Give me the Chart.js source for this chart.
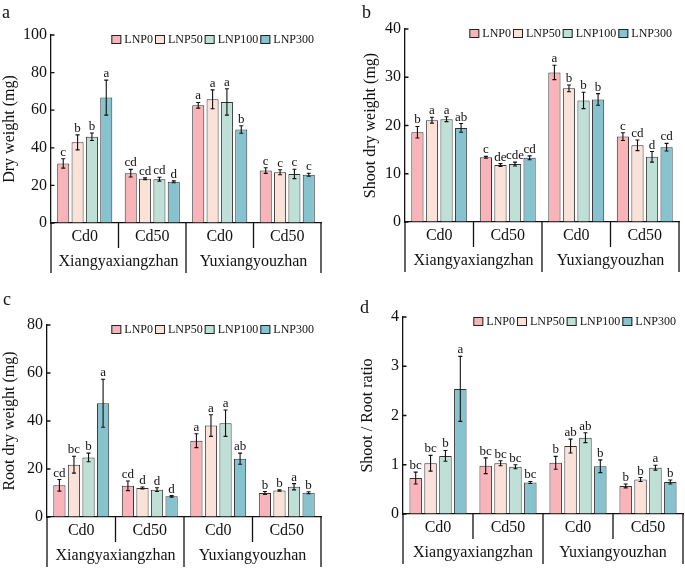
<!DOCTYPE html>
<html>
<head>
<meta charset="utf-8">
<script src="https://cdn.jsdelivr.net/npm/chart.js@4.4.1/dist/chart.umd.min.js"></script>
<style>
  body { margin: 0; background: #fff; }
  #wrap { position: relative; width: 685px; height: 569px; overflow: hidden; background: #fff; }
  canvas { position: absolute; }
</style>
</head>
<body>
<div id="wrap">
  <canvas id="chartA" width="342" height="285" style="left:0px;top:0px"></canvas>
  <canvas id="chartB" width="345" height="285" style="left:340px;top:0px"></canvas>
  <canvas id="chartC" width="342" height="284" style="left:0px;top:285px"></canvas>
  <canvas id="chartD" width="345" height="284" style="left:340px;top:285px"></canvas>
</div>
<script>
// categories
var cultivars = ['Xiangyaxiangzhan', 'Yuxiangyouzhan'];
var cdLevels = ['Cd0', 'Cd50', 'Cd0', 'Cd50'];
var treatments = ['LNP0', 'LNP50', 'LNP100', 'LNP300'];
var colors = ['#f8b4b8', '#fbe2d8', '#bfe0d6', '#87c2cf'];

// a - dry weight (rows = LNP0..LNP300, cols = the 4 Cd groups)
var dryMean = [[31.7, 26.5, 62.6, 27.9], [42.9, 23.5, 65.8, 27.0], [45.9, 23.3, 64.4, 26.1], [66.7, 21.9, 49.7, 25.7]];
var dryErr = [[2.5, 2.0, 1.5, 1.5], [4.0, 0.5, 5.0, 1.3], [2.0, 1.0, 7.0, 2.5], [9.3, 0.5, 2.0, 0.8]];
var drySig = [['c', 'cd', 'a', 'c'], ['b', 'cd', 'a', 'c'], ['b', 'cd', 'a', 'c'], ['a', 'd', 'b', 'c']];

// b - shoot dry weight
var shootMean = [[18.6, 13.4, 31.0, 17.7], [21.1, 11.8, 27.7, 15.9], [21.3, 12.0, 25.2, 13.5], [19.5, 13.3, 25.4, 15.5]];
var shootErr = [[1.2, 0.2, 1.5, 0.8], [0.6, 0.3, 0.7, 1.1], [0.5, 0.4, 1.7, 1.1], [0.9, 0.4, 1.2, 0.8]];
var shootSig = [['b', 'c', 'a', 'c'], ['a', 'de', 'b', 'cd'], ['a', 'cde', 'b', 'd'], ['ab', 'cd', 'b', 'cd']];

// c - root dry weight
var rootMean = [[13.2, 13.0, 31.8, 10.0], [21.8, 12.1, 38.1, 11.0], [24.8, 11.4, 39.1, 12.6], [47.4, 8.6, 24.3, 10.1]];
var rootErr = [[2.4, 2.0, 2.9, 0.6], [3.5, 0.4, 4.5, 0.3], [1.8, 0.8, 5.5, 1.3], [10.0, 0.3, 2.3, 0.4]];
var rootSig = [['cd', 'cd', 'a', 'b'], ['bc', 'd', 'a', 'b'], ['b', 'd', 'a', 'a'], ['a', 'd', 'ab', 'b']];

// d - shoot / root ratio
var ratioMean = [[0.73, 0.98, 1.04, 0.57], [1.03, 1.03, 1.38, 0.70], [1.18, 0.96, 1.55, 0.94], [2.54, 0.64, 0.97, 0.65]];
var ratioErr = [[0.12, 0.16, 0.13, 0.04], [0.16, 0.05, 0.14, 0.04], [0.11, 0.04, 0.10, 0.05], [0.66, 0.02, 0.13, 0.04]];
var ratioSig = [['bc', 'bc', 'b', 'b'], ['bc', 'bc', 'ab', 'b'], ['b', 'bc', 'ab', 'a'], ['a', 'bc', 'b', 'b']];

var serif = '"Liberation Serif", "Times New Roman", serif';

// error bars + significance letters
var errorBars = {
    id: 'errorBars',
    afterDatasetsDraw: function (chart) {
        var ctx = chart.ctx;
        var y = chart.scales.y;
        ctx.save();
        chart.data.datasets.forEach(function (ds, i) {
            var meta = chart.getDatasetMeta(i);
            meta.data.forEach(function (bar, j) {
                var m = ds.data[j], e = ds.errors[j];
                var yt = y.getPixelForValue(m + e);
                var yb = y.getPixelForValue(m - e);
                ctx.strokeStyle = '#111';
                ctx.lineWidth = 1.1;
                ctx.beginPath();
                ctx.moveTo(bar.x, yt); ctx.lineTo(bar.x, yb);
                ctx.moveTo(bar.x - 2, yt); ctx.lineTo(bar.x + 2, yt);
                ctx.moveTo(bar.x - 2, yb); ctx.lineTo(bar.x + 2, yb);
                ctx.stroke();
                ctx.fillStyle = '#111';
                ctx.font = '13px ' + serif;
                ctx.textAlign = 'center';
                ctx.textBaseline = 'alphabetic';
                ctx.fillText(ds.letters[j], bar.x, yt - 3);
            });
        });
        ctx.restore();
    }
};

// two-level x axis, inward y ticks, legend and panel letter
var decorations = {
    id: 'decorations',
    afterDraw: function (chart, args, opts) {
        var ctx = chart.ctx;
        var x = chart.scales.x;
        var y = chart.scales.y;
        var area = chart.chartArea;
        var b = area.bottom;
        ctx.save();
        ctx.strokeStyle = '#111';
        ctx.lineWidth = 1.3;

        // y ticks pointing into the plot
        ctx.beginPath();
        y.ticks.forEach(function (t) {
            var py = y.getPixelForValue(t.value);
            ctx.moveTo(area.left, py); ctx.lineTo(area.left + 3.5, py);
        });
        ctx.stroke();

        var bounds = [area.left];
        for (var j = 0; j < cdLevels.length - 1; j++) {
            bounds.push((x.getPixelForValue(j) + x.getPixelForValue(j + 1)) / 2);
        }
        bounds.push(area.right);
        ctx.beginPath();
        bounds.forEach(function (bx, k) {
            var full = (k === 0 || k === 2 || k === 4);
            ctx.moveTo(bx, b); ctx.lineTo(bx, b + (full ? 50 : 25));
        });
        ctx.stroke();

        ctx.fillStyle = '#111';
        ctx.font = '16px ' + serif;
        ctx.textAlign = 'center';
        ctx.textBaseline = 'middle';
        cdLevels.forEach(function (lab, j) {
            ctx.fillText(lab, x.getPixelForValue(j), b + 14);
        });
        cultivars.forEach(function (lab, k) {
            ctx.fillText(lab, (bounds[2 * k] + bounds[2 * k + 2]) / 2, b + 39);
        });

        // legend, right aligned
        ctx.font = '12px ' + serif;
        var box = 10, gap = 3, sep = 2;
        var total = 0;
        treatments.forEach(function (t) { total += box + gap + ctx.measureText(t).width + sep; });
        total -= sep;
        var lx = area.right - 7 - total;
        var ly = area.top + 5;
        ctx.textAlign = 'left';
        treatments.forEach(function (t, i) {
            ctx.fillStyle = colors[i];
            ctx.fillRect(lx, ly - box / 2, box, box - 1);
            ctx.strokeStyle = '#222';
            ctx.lineWidth = 1;
            ctx.strokeRect(lx + 0.5, ly - box / 2 + 0.5, box - 1, box - 2);
            ctx.fillStyle = '#111';
            ctx.fillText(t, lx + box + gap, ly);
            lx += box + gap + ctx.measureText(t).width + sep;
        });

        ctx.font = '18px ' + serif;
        ctx.textAlign = 'left';
        ctx.textBaseline = 'alphabetic';
        ctx.fillText(opts.letter, opts.letterX, opts.letterY);
        ctx.restore();
    }
};

function makePanel(id, means, errs, sigs, p) {
    var datasets = treatments.map(function (t, i) {
        return {
            label: t,
            data: means[i],
            errors: errs[i],
            letters: sigs[i],
            backgroundColor: colors[i],
            borderColor: '#333',
            borderWidth: 1,
            categoryPercentage: 0.85,
            barPercentage: 0.84
        };
    });
    return new Chart(document.getElementById(id), {
        type: 'bar',
        data: { labels: cdLevels, datasets: datasets },
        options: {
            responsive: false,
            animation: false,
            layout: { padding: { left: p.padLeft, top: p.padTop, right: p.padRight, bottom: 0 } },
            plugins: {
                legend: { display: false },
                tooltip: { enabled: false },
                decorations: { letter: p.letter, letterX: p.letterX, letterY: p.letterY }
            },
            scales: {
                x: {
                    grid: { display: false },
                    ticks: { display: false },
                    border: { display: true, color: '#111', width: 1.3 },
                    afterFit: function (scale) { scale.height = p.xHeight; }
                },
                y: {
                    min: 0,
                    max: p.max,
                    ticks: {
                        stepSize: p.step,
                        color: '#111',
                        padding: 4,
                        font: { family: serif, size: 16 }
                    },
                    grid: { drawOnChartArea: false, drawTicks: false },
                    border: { display: true, color: '#111', width: 1.3 },
                    title: {
                        display: true,
                        text: p.title,
                        color: '#111',
                        padding: 0,
                        font: { family: serif, size: 16 }
                    },
                    afterFit: function (scale) { scale.width = p.yWidth; }
                }
            }
        },
        plugins: [errorBars, decorations]
    });
}

makePanel('chartA', dryMean, dryErr, drySig, {
    padLeft: 0, yWidth: 51, padTop: 35, padRight: 21, xHeight: 62,
    max: 100, step: 20, title: 'Dry weight (mg)', letter: 'a', letterX: 2, letterY: 18
});
makePanel('chartB', shootMean, shootErr, shootSig, {
    padLeft: 21, yWidth: 44, padTop: 29, padRight: 6, xHeight: 63,
    max: 40, step: 10, title: 'Shoot dry weight (mg)', letter: 'b', letterX: 22, letterY: 18
});
makePanel('chartC', rootMean, rootErr, rootSig, {
    padLeft: 0, yWidth: 47, padTop: 40, padRight: 21, xHeight: 52,
    max: 80, step: 20, title: 'Root dry weight (mg)', letter: 'c', letterX: 3, letterY: 20
});
makePanel('chartD', ratioMean, ratioErr, ratioSig, {
    padLeft: 18, yWidth: 45, padTop: 32, padRight: 2, xHeight: 55,
    max: 4, step: 1, title: 'Shoot / Root ratio', letter: 'd', letterX: 20, letterY: 28
});
</script>
</body>
</html>
